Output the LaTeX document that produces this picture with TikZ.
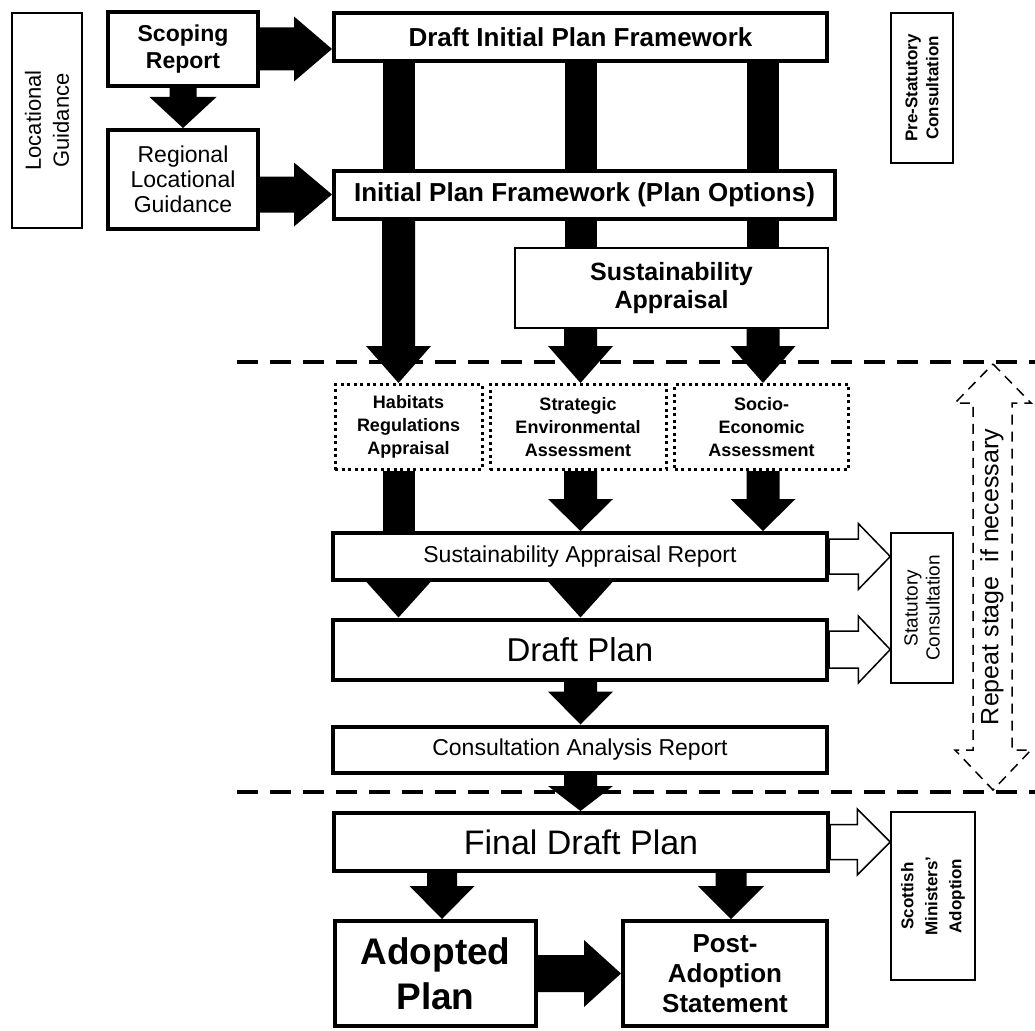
\documentclass[tikz,border=0pt]{standalone}
\usepackage{fontspec}
\setmainfont{Liberation Sans}
\usetikzlibrary{calc}

\tikzset{
  stage/.style={draw, black, line width=4pt, fill=white, inner sep=0pt, align=center},
  side/.style={draw, black, line width=1.5pt, fill=white, inner sep=0pt, align=center},
  assess/.style={draw, black, line width=3pt, dash pattern=on 3pt off 3.5pt, fill=white,
    inner sep=0pt, align=center, font=\bfseries\fontsize{18}{23}\selectfont},
  blk/.style={fill=black},
  hollow/.style={draw=black, fill=white, line width=1.5pt, line join=miter},
  shaft/.style={line width=32pt},
  sep/.style={line width=4.5pt, dash pattern=on 21pt off 12pt},
  repeatline/.style={line width=1.5pt, dash pattern=on 10pt off 7pt}
}

% block arrows: [style]{from}{to}{half shaft}{half head}{head length}
\newcommand{\blockdown}[6][blk]{%
  \path[#1] let \p1=(#2), \p2=(#3) in
    (\x1-#4pt,\y1) -- (\x1+#4pt,\y1) -- (\x1+#4pt,\y2+#6pt) -- (\x1+#5pt,\y2+#6pt)
    -- (\x1,\y2) -- (\x1-#5pt,\y2+#6pt) -- (\x1-#4pt,\y2+#6pt) -- cycle;}
\newcommand{\blockright}[6][blk]{%
  \path[#1] let \p1=(#2), \p2=(#3) in
    (\x1,\y1+#4pt) -- (\x2-#6pt,\y1+#4pt) -- (\x2-#6pt,\y1+#5pt) -- (\x2,\y1)
    -- (\x2-#6pt,\y1-#5pt) -- (\x2-#6pt,\y1-#4pt) -- (\x1,\y1-#4pt) -- cycle;}

\begin{document}
\begin{tikzpicture}[x=1pt, y=-1pt]
    \useasboundingbox (0,0) rectangle (1035,1030);

    % stage separators
    \draw[sep] (237,362) -- (1035,362);
    \draw[sep] (237,792) -- (1035,792);

    \coordinate (colA) at (398.5,0);
    \coordinate (colB) at (580.5,0);
    \coordinate (colC) at (763,0);
    \coordinate (colD) at (442,0);
    \coordinate (colE) at (731,0);

    \node[side, rotate=90, minimum width=215pt, minimum height=70pt,
      font=\fontsize{22}{28}\selectfont] (locg) at (47,120.5) {Locational\\Guidance};
    \node[stage, minimum width=150pt, minimum height=74pt,
      font=\bfseries\fontsize{23}{27}\selectfont] (scop) at (183,49) {Scoping\\Report};
    \node[stage, minimum width=150pt, minimum height=99pt,
      font=\fontsize{23}{25}\selectfont] (regl) at (183,179.5) {Regional\\Locational\\Guidance};
    \node[stage, minimum width=493pt, minimum height=48pt,
      font=\bfseries\fontsize{26}{30}\selectfont] (dipf) at (580.5,37) {Draft Initial Plan Framework};
    \node[side, rotate=90, minimum width=150pt, minimum height=62pt,
      font=\bfseries\fontsize{17}{21}\selectfont] (pres) at (922,88) {Pre-Statutory\\Consultation};
    \node[stage, minimum width=501pt, minimum height=48pt,
      font=\bfseries\fontsize{26}{30}\selectfont] (ipf) at (584.5,194.5) {Initial Plan Framework (Plan Options)};
    \node[side, minimum width=313pt, minimum height=80pt,
      font=\bfseries\fontsize{25}{28}\selectfont] (sapp) at (671.5,288) {Sustainability\\Appraisal};

    \node[assess, minimum width=147pt, minimum height=85pt] (hra) at (408.5,427) {Habitats\\Regulations\\Appraisal};
    \node[assess, minimum width=176pt, minimum height=85pt] (sea) at (578,427) {Strategic\\Environmental\\Assessment};
    \node[assess, minimum width=174pt, minimum height=85pt] (seco) at (761.5,427) {Socio-\\Economic\\Assessment};

    \node[stage, minimum width=494pt, minimum height=47pt,
      font=\fontsize{23}{27}\selectfont] (sarep) at (580,556.5) {Sustainability Appraisal Report};
    \node[side, rotate=90, minimum width=150pt, minimum height=62pt,
      font=\fontsize{19}{22}\selectfont] (stat) at (922,608) {Statutory\\Consultation};
    \node[stage, minimum width=494pt, minimum height=60pt,
      font=\fontsize{33}{38}\selectfont] (dplan) at (580,649.5) {Draft Plan};
    \node[stage, minimum width=494pt, minimum height=46pt,
      font=\fontsize{23}{27}\selectfont] (car) at (580,749.5) {Consultation Analysis Report};
    \node[stage, minimum width=494pt, minimum height=58pt,
      font=\fontsize{34}{38}\selectfont] (fdp) at (581,842) {Final Draft Plan};
    \node[side, rotate=90, minimum width=168pt, minimum height=84pt,
      font=\bfseries\fontsize{17}{24}\selectfont] (scot) at (933,896) {Scottish\\Ministers'\\Adoption};
    \node[stage, minimum width=201pt, minimum height=105pt,
      font=\bfseries\fontsize{37}{45}\selectfont] (adop) at (435.5,973.5) {Adopted\\Plan};
    \node[stage, minimum width=204pt, minimum height=105pt,
      font=\bfseries\fontsize{26}{30}\selectfont] (post) at (725,973.5) {Post-\\Adoption\\Statement};

    % arrows into the framework
    \blockright{scop.east}{dipf.west}{21.5}{32.5}{38}
    \blockdown{scop.south -| scop.south}{regl.north}{13.5}{33.5}{31}
    \blockright{regl.east |- ipf.west}{ipf.west}{18}{32}{38}

    \draw[shaft] (dipf.south -| colA) -- (ipf.north -| colA);
    \draw[shaft] (dipf.south -| colB) -- (ipf.north -| colB);
    \draw[shaft] (dipf.south -| colC) -- (ipf.north -| colC);

    % into the assessments
    \blockdown{ipf.south -| colA}{hra.north -| colA}{16.5}{32.5}{37}
    \draw[shaft] (ipf.south -| colB) -- (sapp.north -| colB);
    \draw[shaft] (ipf.south -| colC) -- (sapp.north -| colC);
    \blockdown{sapp.south -| colB}{sea.north -| colB}{16.5}{32.5}{37}
    \blockdown{sapp.south -| colC}{seco.north -| colC}{16.5}{32.5}{37}

    % into the report
    \draw[shaft] (hra.south -| colA) -- (sarep.north -| colA);
    \blockdown{sea.south -| colB}{sarep.north -| colB}{16.5}{32.5}{32}
    \blockdown{seco.south -| colC}{sarep.north -| colC}{16.5}{32.5}{32}

    \blockdown{sarep.south -| colA}{dplan.north -| colA}{16.5}{32.5}{36}
    \blockdown{sarep.south -| colB}{dplan.north -| colB}{16.5}{32.5}{36}
    \blockdown{dplan.south -| colB}{car.north -| colB}{16.5}{32.5}{33}
    \blockdown{car.south -| colB}{fdp.north -| colB}{16.5}{32.5}{25}

    \blockdown{fdp.south -| colD}{adop.north -| colD}{15}{32.5}{33}
    \blockdown{fdp.south -| colE}{post.north -| colE}{15.5}{33}{33}
    \blockright{adop.east}{post.west}{18.5}{33.5}{37}

    % consultation arrows
    \blockright[hollow]{sarep.east}{stat.north}{17.5}{33}{32}
    \blockright[hollow]{dplan.east}{stat.north}{18.5}{33.5}{32}
    \blockright[hollow]{fdp.east}{scot.north}{17.5}{33}{33}

    % repeat stage
    \draw[repeatline] (993,364) -- (1031,403) -- (1012,403) -- (1012,750) -- (1031,750)
      -- (993,790) -- (955,750) -- (973,750) -- (973,403) -- (955,403) -- cycle;
    \node[rotate=90, inner sep=0pt, font=\fontsize{25}{28}\selectfont] (rpt) at (992,577) {Repeat stage\ \ if necessary};

  \end{tikzpicture}
\end{document}
